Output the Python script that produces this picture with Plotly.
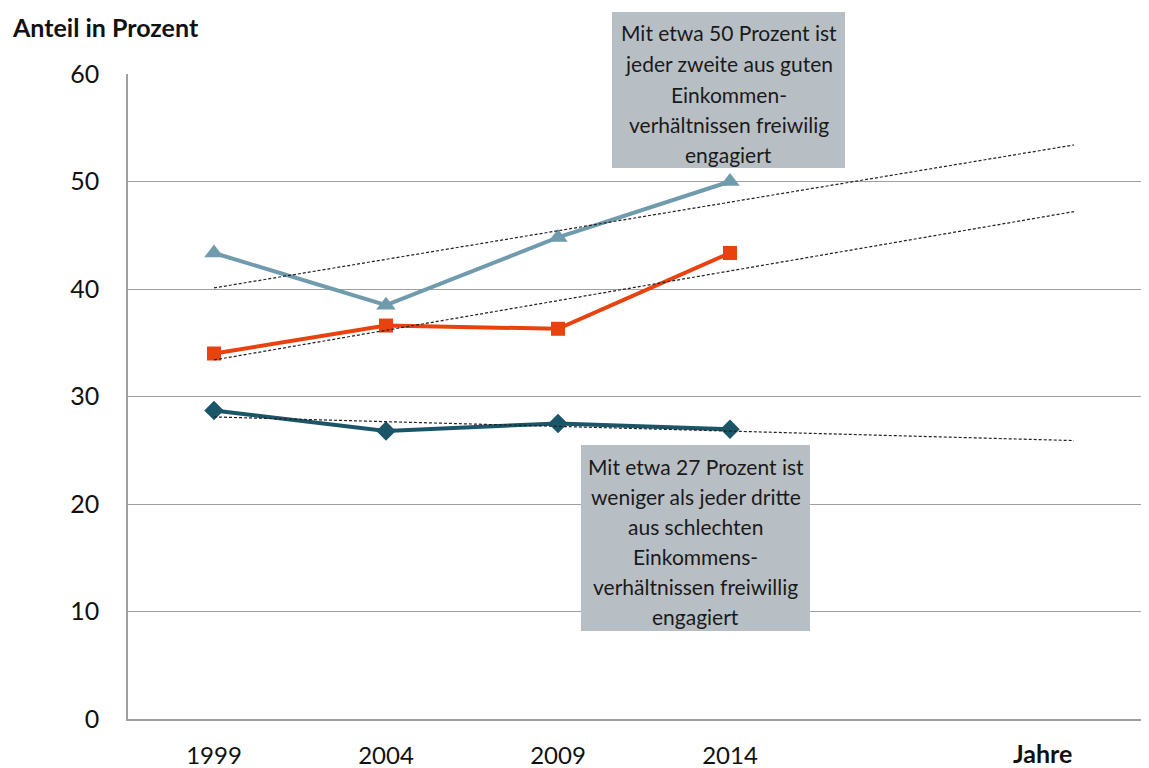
import plotly.graph_objects as go

# ---------------- data ----------------
years = [1999, 2004, 2009, 2014]
good_income = [43.35, 38.5, 44.8, 50.0]      # triangles
middle_income = [34.0, 36.6, 36.3, 43.35]    # squares
poor_income = [28.7, 26.8, 27.5, 26.95]      # diamonds

trend_years = [1999, 2024]
trend_good = [40.1, 53.4]
trend_middle = [33.4, 47.2]
trend_poor = [28.1, 25.9]

x_tick_vals = [1999, 2004, 2009, 2014]
x_tick_text = ["1999", "2004", "2009", "2014"]
y_tick_vals = [0, 10, 20, 30, 40, 50, 60]

note_good = ["Mit etwa 50 Prozent ist", "jeder zweite aus guten", "Einkommen-",
             "verhältnissen freiwilig", "engagiert"]
note_poor = ["Mit etwa 27 Prozent ist", "weniger als jeder dritte", "aus schlechten",
             "Einkommens-", "verhältnissen freiwillig", "engagiert"]

# ---------------- style ----------------
FONT = "Lato"
C_GOOD = "#6F9BAD"
C_MID = "#E8420E"
C_POOR = "#1B5568"
C_BOX = "#B8BFC4"
C_GRID = "#A0A0A0"

OFF = 8  # page body margin
W, H = 1149 - OFF, 768 - OFF
ML, MR, MT, MB = 128 - OFF, 0, 74 - OFF, 49
PW, PH = W - ML - MR, H - MT - MB


def px_x(p):
    return (p - OFF - ML) / PW


def px_y(p):
    return (H - MB - (p - OFF)) / PH


fig = go.Figure()

fig.add_trace(go.Scatter(x=years, y=good_income, mode="lines+markers",
                         line=dict(color=C_GOOD, width=4),
                         marker=dict(symbol="triangle-up", size=17, color=C_GOOD),
                         showlegend=False, cliponaxis=False))
fig.add_trace(go.Scatter(x=years, y=middle_income, mode="lines+markers",
                         line=dict(color=C_MID, width=4),
                         marker=dict(symbol="square", size=14, color=C_MID),
                         showlegend=False, cliponaxis=False))
fig.add_trace(go.Scatter(x=years, y=poor_income, mode="lines+markers",
                         line=dict(color=C_POOR, width=4),
                         marker=dict(symbol="diamond", size=15, color=C_POOR),
                         showlegend=False, cliponaxis=False))

for tr in (trend_good, trend_middle, trend_poor):
    fig.add_trace(go.Scatter(x=trend_years, y=tr, mode="lines",
                             line=dict(color="#222222", width=1.2, dash="3px,2px"),
                             showlegend=False, hoverinfo="skip"))

shapes = [
    dict(type="rect", xref="paper", yref="paper",
         x0=px_x(612), x1=px_x(845), y0=px_y(168), y1=px_y(12),
         fillcolor=C_BOX, line=dict(width=0), layer="above"),
    dict(type="rect", xref="paper", yref="paper",
         x0=px_x(581), x1=px_x(810), y0=px_y(631), y1=px_y(445),
         fillcolor=C_BOX, line=dict(width=0), layer="above"),
]

annotations = []
for i, line in enumerate(note_good):
    annotations.append(dict(text=line, xref="paper", yref="paper",
                            x=px_x(728.5), y=px_y(33 + i * 30.5),
                            xanchor="center", yanchor="middle", showarrow=False,
                            font=dict(family=FONT, size=21, color="#1a1a1a")))
for i, line in enumerate(note_poor):
    annotations.append(dict(text=line, xref="paper", yref="paper",
                            x=px_x(695.5), y=px_y(466 + i * 30),
                            xanchor="center", yanchor="middle", showarrow=False,
                            font=dict(family=FONT, size=21, color="#1a1a1a")))

annotations.append(dict(text="<b>Anteil in Prozent</b>", xref="paper", yref="paper",
                        x=px_x(10), y=px_y(27), xanchor="left", yanchor="middle",
                        showarrow=False, font=dict(family=FONT, size=25, color="#111111")))
annotations.append(dict(text="<b>Jahre</b>", xref="paper", yref="paper",
                        x=px_x(1042), y=px_y(753), xanchor="center", yanchor="middle",
                        showarrow=False, font=dict(family=FONT, size=25, color="#111111")))

fig.update_layout(
    width=W, height=H,
    margin=dict(l=ML, r=MR, t=MT, b=MB),
    paper_bgcolor="white", plot_bgcolor="white",
    font=dict(family=FONT, color="#111111"),
    shapes=shapes, annotations=annotations,
    xaxis=dict(range=[1996.5, 2026.18], tickvals=x_tick_vals, ticktext=x_tick_text,
               showgrid=False, zeroline=False, showline=True, linecolor=C_GRID,
               linewidth=1.5, ticks="", ticklabelstandoff=14,
               tickfont=dict(family=FONT, size=24, color="#111111")),
    yaxis=dict(range=[0, 60], tickvals=y_tick_vals, showgrid=True, gridcolor=C_GRID,
               gridwidth=1.3, zeroline=False, showline=True, linecolor=C_GRID,
               linewidth=1.5, ticks="", ticklabelstandoff=22,
               tickfont=dict(family=FONT, size=25, color="#111111")),
    hovermode=False,
)

fig.write_html("out.html", config={"displayModeBar": False})
